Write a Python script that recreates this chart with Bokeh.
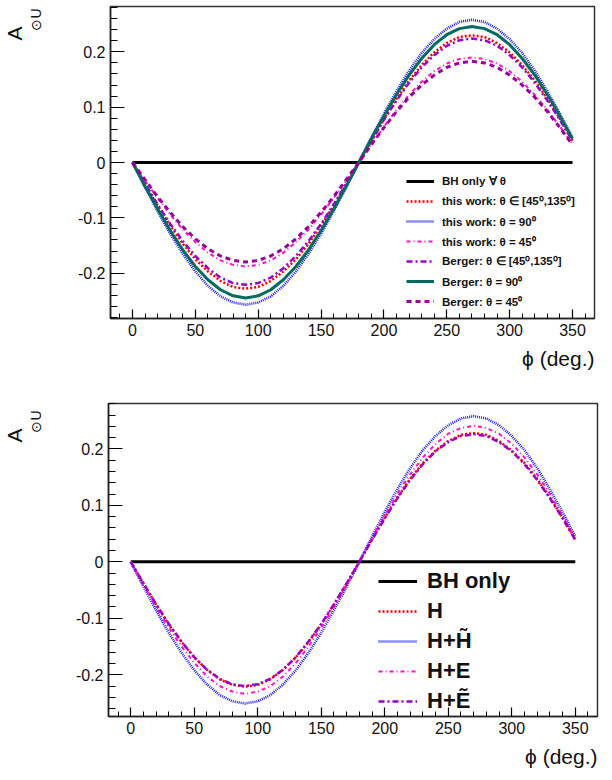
from bokeh.plotting import figure
from bokeh.models import Range1d, FixedTicker, Legend, LegendItem, Title
from bokeh.layouts import column, row
from bokeh.embed import file_html
from bokeh.resources import INLINE

FONT = "Liberation Sans"

# ---------------- data ----------------
phi = list(range(0, 360, 10))
bh_only = [0.0] * len(phi)

# top panel
this_work_range = [0, -0.040, -0.078, -0.114, -0.147, -0.175, -0.197, -0.214, -0.225, -0.228, -0.225, -0.214, -0.197, -0.175, -0.147, -0.114, -0.078, -0.040,
                   0, 0.040, 0.079, 0.115, 0.148, 0.176, 0.199, 0.216, 0.227, 0.230, 0.227, 0.216, 0.199, 0.176, 0.148, 0.115, 0.079, 0.040]
this_work_90 = [0, -0.045, -0.088, -0.129, -0.165, -0.197, -0.223, -0.242, -0.253, -0.257, -0.253, -0.242, -0.223, -0.197, -0.165, -0.129, -0.088, -0.045,
                0, 0.045, 0.088, 0.129, 0.166, 0.198, 0.223, 0.242, 0.254, 0.258, 0.254, 0.242, 0.223, 0.198, 0.166, 0.129, 0.088, 0.045]
this_work_45 = [0, -0.033, -0.064, -0.094, -0.121, -0.144, -0.163, -0.177, -0.185, -0.188, -0.185, -0.177, -0.163, -0.144, -0.121, -0.094, -0.064, -0.033,
                0, 0.033, 0.065, 0.095, 0.122, 0.146, 0.165, 0.179, 0.187, 0.190, 0.187, 0.179, 0.165, 0.146, 0.122, 0.095, 0.065, 0.033]
berger_range = [0, -0.038, -0.076, -0.111, -0.142, -0.169, -0.191, -0.208, -0.218, -0.221, -0.218, -0.208, -0.191, -0.169, -0.142, -0.111, -0.076, -0.038,
                0, 0.039, 0.077, 0.112, 0.144, 0.172, 0.194, 0.211, 0.221, 0.224, 0.221, 0.211, 0.194, 0.172, 0.144, 0.112, 0.077, 0.039]
berger_90 = [0, -0.043, -0.084, -0.123, -0.158, -0.188, -0.212, -0.230, -0.241, -0.245, -0.241, -0.230, -0.212, -0.188, -0.158, -0.123, -0.084, -0.043,
             0, 0.043, 0.084, 0.123, 0.158, 0.188, 0.213, 0.231, 0.242, 0.246, 0.242, 0.231, 0.213, 0.188, 0.158, 0.123, 0.084, 0.043]
berger_45 = [0, -0.031, -0.062, -0.090, -0.116, -0.138, -0.156, -0.169, -0.177, -0.180, -0.177, -0.169, -0.156, -0.138, -0.116, -0.090, -0.062, -0.031,
             0, 0.032, 0.063, 0.092, 0.118, 0.140, 0.158, 0.172, 0.180, 0.183, 0.180, 0.172, 0.158, 0.140, 0.118, 0.092, 0.063, 0.032]

# bottom panel
h_only = [0, -0.038, -0.076, -0.111, -0.142, -0.169, -0.191, -0.208, -0.218, -0.221, -0.218, -0.208, -0.191, -0.169, -0.142, -0.111, -0.076, -0.038,
          0, 0.040, 0.078, 0.114, 0.147, 0.175, 0.197, 0.214, 0.225, 0.228, 0.225, 0.214, 0.197, 0.175, 0.147, 0.114, 0.078, 0.040]
h_htilde = [0, -0.044, -0.086, -0.126, -0.161, -0.192, -0.217, -0.236, -0.247, -0.251, -0.247, -0.236, -0.217, -0.192, -0.161, -0.126, -0.086, -0.044,
            0, 0.045, 0.088, 0.129, 0.166, 0.198, 0.223, 0.242, 0.254, 0.258, 0.254, 0.242, 0.223, 0.198, 0.166, 0.129, 0.088, 0.045]
h_e = [0, -0.041, -0.080, -0.117, -0.150, -0.179, -0.203, -0.220, -0.230, -0.234, -0.230, -0.220, -0.203, -0.179, -0.150, -0.117, -0.080, -0.041,
       0, 0.042, 0.082, 0.121, 0.155, 0.185, 0.209, 0.227, 0.237, 0.241, 0.237, 0.227, 0.209, 0.185, 0.155, 0.121, 0.082, 0.042]
h_etilde = [0, -0.038, -0.075, -0.110, -0.141, -0.169, -0.191, -0.207, -0.217, -0.220, -0.217, -0.207, -0.191, -0.169, -0.141, -0.110, -0.075, -0.038,
            0, 0.039, 0.077, 0.113, 0.145, 0.173, 0.196, 0.212, 0.223, 0.226, 0.223, 0.212, 0.196, 0.173, 0.145, 0.113, 0.077, 0.039]

x_ticks = [0, 50, 100, 150, 200, 250, 300, 350]
x_minor = list(range(-10, 370, 10))
y_ticks = [-0.2, -0.1, 0.0, 0.1, 0.2]
y_tick_labels = ["-0.2", "-0.1", "0", "0.1", "0.2"]
y_minor = [-0.28, -0.26, -0.24, -0.22, -0.18, -0.16, -0.14, -0.12, -0.08, -0.06, -0.04, -0.02,
           0.02, 0.04, 0.06, 0.08, 0.12, 0.14, 0.16, 0.18, 0.22, 0.24, 0.26, 0.28]

x_title = "\u03d5 (deg.)"
y_title_main = "A"
y_title_sub = "\u2299U"

top_labels = ["BH only \u2200 \u03b8", "this work: \u03b8 \u2208 [45\u2070,135\u2070]", "this work: \u03b8 = 90\u2070",
              "this work: \u03b8 = 45\u2070", "Berger: \u03b8 \u2208 [45\u2070,135\u2070]", "Berger: \u03b8 = 90\u2070",
              "Berger: \u03b8 = 45\u2070"]
bottom_labels = ["BH only", "H", "H+H\u0303", "H+E", "H+E\u0303"]

SIDE_W = 50
PANEL_H = 390


def make_side(a_off, sub_off):
    """Narrow blank strip whose left-side titles form the rotated y title A_(dot U)."""
    s = figure(width=SIDE_W, height=PANEL_H, output_backend="svg", toolbar_location=None,
               x_range=Range1d(0, 1), y_range=Range1d(0, 1),
               x_axis_location=None, y_axis_location=None,
               min_border_left=43, min_border_right=0, min_border_top=0, min_border_bottom=0)
    s.grid.visible = False
    s.outline_line_color = None
    s.background_fill_color = "white"
    s.border_fill_color = "white"
    s.add_layout(Title(text=y_title_sub, align="right", text_font=FONT, text_font_size="14px",
                       text_font_style="normal", text_color="#111111", standoff=0,
                       offset=sub_off), "left")
    s.add_layout(Title(text=y_title_main, align="right", text_font=FONT, text_font_size="21px",
                       text_font_style="normal", text_color="#111111", standoff=0,
                       offset=a_off), "left")
    return s


def make_fig(yr, bl, br, bt, bb):
    p = figure(width=612 - SIDE_W, height=PANEL_H, output_backend="svg", toolbar_location=None,
               x_range=Range1d(-17.5, 367.5), y_range=Range1d(*yr),
               min_border_left=bl, min_border_right=br, min_border_top=bt, min_border_bottom=bb)
    p.grid.visible = False
    p.outline_line_color = "#333333"
    p.outline_line_width = 1.5
    p.background_fill_color = "white"
    p.border_fill_color = "white"
    xa = p.xaxis[0]
    xa.ticker = FixedTicker(ticks=x_ticks, minor_ticks=x_minor)
    xa.major_tick_in = 9
    xa.major_tick_out = 0
    xa.minor_tick_in = 5
    xa.minor_tick_out = 0
    ya = p.yaxis[0]
    ya.ticker = FixedTicker(ticks=y_ticks, minor_ticks=y_minor)
    ya.major_label_overrides = {t: l for t, l in zip(y_ticks, y_tick_labels)}
    ya.major_tick_in = 14
    ya.major_tick_out = 0
    ya.minor_tick_in = 7
    ya.minor_tick_out = 0
    for ax in (xa, ya):
        ax.axis_line_color = "#222222"
        ax.axis_line_width = 1.5
        ax.major_tick_line_width = 1.2
        ax.major_label_text_font = FONT
        ax.major_label_text_font_size = "16px"
        ax.major_label_text_color = "#111111"
        ax.major_label_standoff = 5
    p.add_layout(Title(text=x_title, align="right", text_font=FONT, text_font_size="21px",
                       text_font_style="normal", text_color="#111111", standoff=13), "below")
    return p


# ---------------- top panel ----------------
s1 = make_side(20, 2)
p1 = make_fig((-0.282, 0.282), 110 - SIDE_W, 18, 6, 72)
r_bh = p1.line(phi, bh_only, line_color="black", line_width=3)
r_tr = p1.line(phi, this_work_range, line_color="#ff0000", line_width=2.5, line_dash="2 2")
r_t90 = p1.line(phi, this_work_90, line_color="#1f1fff", line_width=2.6, line_dash="1 1")
r_t45 = p1.line(phi, this_work_45, line_color="#ff11cc", line_width=2, line_dash="4 3 1 3")
r_br = p1.line(phi, berger_range, line_color="#9900cc", line_width=2.5, line_dash="6 3 2 3")
r_b90 = p1.line(phi, berger_90, line_color="#006b5e", line_width=3)
r_b45 = p1.line(phi, berger_45, line_color="#990099", line_width=3, line_dash="5 4")
leg1 = Legend(items=[LegendItem(label=l, renderers=[r]) for l, r in
                     zip(top_labels, [r_bh, r_tr, r_t90, r_t45, r_br, r_b90, r_b45])],
              location=(296, 7), glyph_width=28, glyph_height=20, label_height=20,
              spacing=0, padding=0, margin=0, label_standoff=8,
              border_line_alpha=0, background_fill_alpha=0,
              label_text_font=FONT, label_text_font_style="bold",
              label_text_font_size="11.5px", label_text_color="#111111")
p1.add_layout(leg1)

# ---------------- bottom panel ----------------
s2 = make_side(25, 7)
p2 = make_fig((-0.274, 0.2805), 108 - SIDE_W, 15, 13, 64)
q_bh = p2.line(phi, bh_only, line_color="black", line_width=3)
q_h = p2.line(phi, h_only, line_color="#ff0000", line_width=2.5, line_dash="2 2")
q_hh = p2.line(phi, h_htilde, line_color="#1f1fff", line_width=2.6, line_dash="1 1")
q_he = p2.line(phi, h_e, line_color="#ff11cc", line_width=2, line_dash="4 3 1 3")
q_het = p2.line(phi, h_etilde, line_color="#9900cc", line_width=2.5, line_dash="6 3 2 3")
leg2 = Legend(items=[LegendItem(label=l, renderers=[r]) for l, r in
                     zip(bottom_labels, [q_bh, q_h, q_hh, q_he, q_het])],
              location=(270, 0), glyph_width=39, glyph_height=30, label_height=30,
              spacing=0, padding=0, margin=0, label_standoff=10,
              border_line_alpha=0, background_fill_alpha=0,
              label_text_font=FONT, label_text_font_style="bold",
              label_text_font_size="22px", label_text_color="#111111")
p2.add_layout(leg2)

layout = column(row(s1, p1, spacing=0), row(s2, p2, spacing=0), spacing=0)
open("out.html", "w").write(file_html(layout, INLINE))
